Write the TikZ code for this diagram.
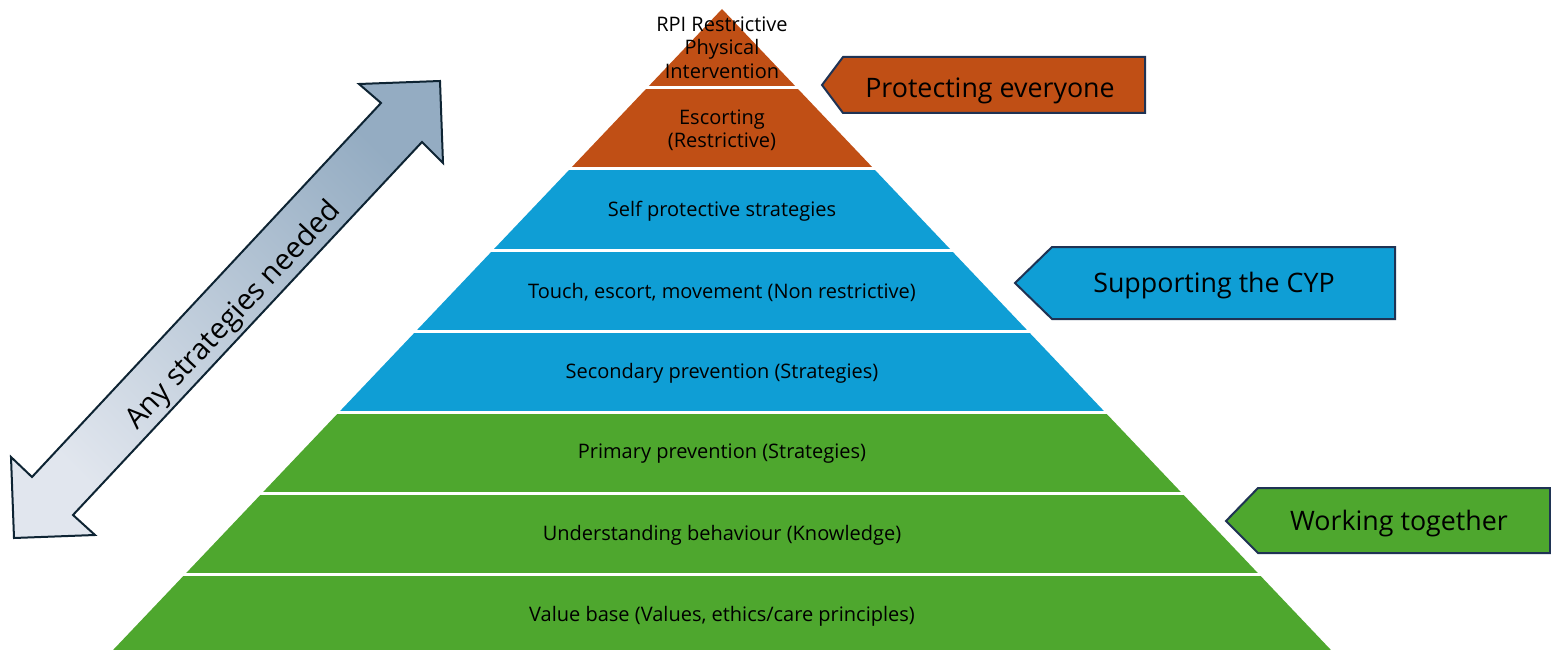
\documentclass[tikz,border=0pt]{standalone}
\usepackage{fontspec}
\setmainfont{Open Sans}
\definecolor{rust}{HTML}{C04F15}
\definecolor{sky}{HTML}{0F9ED5}
\definecolor{leaf}{HTML}{4EA72E}
\definecolor{navy}{HTML}{1F3354}
\definecolor{arrowdark}{HTML}{94ACC2}
\definecolor{arrowlight}{HTML}{E1E6EE}
\definecolor{arrowline}{HTML}{0E2433}
\tikzset{
  tiertext/.style={font=\fontsize{20}{23.5}\selectfont, align=center, text=black},
  calltext/.style={font=\fontsize{26.8}{30}\selectfont, text=black},
  callbox/.style={draw=navy, line width=2pt, line join=miter},
  gapline/.style={white, line width=3pt},
}
\begin{document}
\begin{tikzpicture}[x=1pt,y=-1pt]
\useasboundingbox (0,0) rectangle (1551,650);
\clip (0,0) rectangle (1551,650);
\fill[white] (0,0) rectangle (1551,650);
% pyramid tiers
\fill[rust] (722,9) -- (797.05,88) -- (646.95,88) -- cycle;
\fill[rust] (646.95,88) -- (797.05,88) -- (874,169) -- (570,169) -- cycle;
\fill[sky] (570,169) -- (874,169) -- (950.95,250) -- (493.05,250) -- cycle;
\fill[sky] (493.05,250) -- (950.95,250) -- (1027.9,331) -- (416.1,331) -- cycle;
\fill[sky] (416.1,331) -- (1027.9,331) -- (1104.85,412) -- (339.15,412) -- cycle;
\fill[leaf] (339.15,412) -- (1104.85,412) -- (1181.8,493) -- (262.2,493) -- cycle;
\fill[leaf] (262.2,493) -- (1181.8,493) -- (1258.75,574) -- (185.25,574) -- cycle;
\fill[leaf] (185.25,574) -- (1258.75,574) -- (1340.45,660) -- (103.55,660) -- cycle;
% separators
\draw[gapline] (640,88) -- (804,88);
\draw[gapline] (563,169) -- (881,169);
\draw[gapline] (486,250) -- (958,250);
\draw[gapline] (409,331) -- (1035,331);
\draw[gapline] (332,412) -- (1112,412);
\draw[gapline] (255,493) -- (1189,493);
\draw[gapline] (178,574) -- (1266,574);
% tier texts
\node[tiertext] (t1) at (722,47.5) {RPI Restrictive\\Physical\\Intervention};
\node[tiertext] (t2) at (722,130) {Escorting\\(Restrictive)};
\node[tiertext] (t3) at (722,211) {Self protective strategies};
\node[tiertext] (t4) at (722,292) {Touch, escort, movement (Non restrictive)};
\node[tiertext] (t5) at (722,373) {Secondary prevention (Strategies)};
\node[tiertext] (t6) at (722,454) {Primary prevention (Strategies)};
\node[tiertext] (t7) at (722,535) {Understanding behaviour (Knowledge)};
\node[tiertext] (t8) at (722,616) {Value base (Values, ethics/care principles)};
% callouts
\path[callbox, fill=rust] (822,85) -- (843,57) -- (1145,57) -- (1145,113) -- (843,113) -- cycle;
\node[calltext] (c1) at (990,90.5) {Protecting everyone};
\path[callbox, fill=sky] (1015,283) -- (1052,247) -- (1395,247) -- (1395,319) -- (1052,319) -- cycle;
\node[calltext] (c2) at (1214,286) {Supporting the CYP};
\path[callbox, fill=leaf] (1226,521) -- (1258,488) -- (1550,488) -- (1550,553) -- (1258,553) -- cycle;
\node[calltext] (c3) at (1399,524) {Working together};
% double arrow
\path[draw=arrowline, line width=2pt, line join=miter, top color=arrowdark, bottom color=arrowlight, shading angle=-45]
  (359,84) -- (440,81) -- (443,163) -- (422,142) -- (73,515) -- (95,535) -- (14,538) -- (11,457) -- (32,477) -- (381,103) -- cycle;
\node[font=\fontsize{29}{32}\selectfont, rotate=47, text=black] (arr) at (234,316) {Any strategies needed};
\end{tikzpicture}
\end{document}
